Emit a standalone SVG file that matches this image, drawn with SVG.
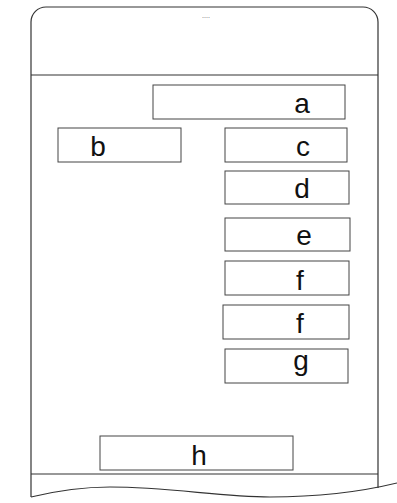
<svg xmlns="http://www.w3.org/2000/svg" width="397" height="503" viewBox="0 0 397 503">
<style>
.frame{fill:none;stroke:#333;stroke-width:1.2}
.box{fill:#fff;stroke:#444;stroke-width:1}
.lbl{font-family:"Liberation Sans",Arial,sans-serif;font-size:28px;fill:#111;text-anchor:middle}
.tiny{font-family:"Liberation Sans",Arial,sans-serif;font-size:7px;fill:#555;text-anchor:middle}
</style>
<rect width="397" height="503" fill="#fff"/>
<g id="frame">
<path class="frame" d="M31,22 A15,15 0 0 1 46,7 L363,7 A15,15 0 0 1 378,22 L378,488"/>
<path class="frame" d="M31,22 L31,497"/>
<line class="frame" x1="31" y1="75" x2="378" y2="75"/>
<line class="frame" x1="31" y1="474" x2="378" y2="474"/>
<path class="frame" d="M31,497 C60,490 85,487 110,487 C170,487 220,497 270,497 C320,497 360,492 397,483"/>
<text class="tiny" x="206" y="18">....</text>
</g>
<g id="node-a"><rect class="box" x="153" y="85" width="192" height="34"/><text class="lbl" x="302" y="113">a</text></g>
<g id="node-b"><rect class="box" x="58" y="128" width="123" height="34"/><text class="lbl" x="98" y="156">b</text></g>
<g id="node-c"><rect class="box" x="225" y="128" width="122" height="34"/><text class="lbl" x="303" y="156">c</text></g>
<g id="node-d"><rect class="box" x="225" y="171" width="124" height="33"/><text class="lbl" x="302" y="198">d</text></g>
<g id="node-e"><rect class="box" x="225" y="218" width="125" height="33"/><text class="lbl" x="304" y="245">e</text></g>
<g id="node-f1"><rect class="box" x="225" y="261" width="124" height="34"/><text class="lbl" x="300" y="290">f</text></g>
<g id="node-f2"><rect class="box" x="223" y="305" width="126" height="34"/><text class="lbl" x="300" y="333">f</text></g>
<g id="node-g"><rect class="box" x="225" y="349" width="123" height="34"/><text class="lbl" x="301" y="370">g</text></g>
<g id="node-h"><rect class="box" x="100" y="436" width="193" height="34"/><text class="lbl" x="199" y="465">h</text></g>
<g id="connectors"></g>
</svg>
